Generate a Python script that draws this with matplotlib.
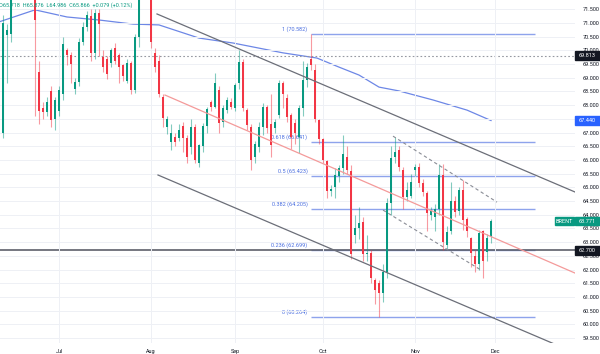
import matplotlib
matplotlib.use("Agg")
import numpy as np
import matplotlib.pyplot as plt
from matplotlib import transforms
from matplotlib.patches import Rectangle

plt.rcParams['font.family'] = ['Roboto', 'DejaVu Sans']

# daily bars, index 0 = 11 Jun ... 122 = 28 Nov
opens = [67.0, 70.56, 70.6, 74.5, 73.4, 76.5, 76.7, 78.3, 78.5, 69.2,
         67.9, 67.75, 68.5, 67.5, 67.8, 68.4, 70.0, 69.85, 68.6, 68.85,
         70.3, 70.85, 71.25, 69.9, 71.35, 69.75, 69.7, 69.55, 70.1, 69.83,
         69.45, 68.9, 69.55, 68.55, 70.5, 72.6, 73.2, 72.4, 69.9, 69.6,
         68.3, 67.2, 66.65, 66.85, 66.8, 67.25, 66.8, 66.48, 67.2, 65.9,
         66.5, 67.25, 68.1, 67.93, 68.55, 67.38, 67.82, 68.1, 67.9, 68.8,
         69.58, 67.82, 67.2, 66.1, 66.48, 67.2, 67.93, 67.3, 67.17, 67.64,
         68.8, 68.26, 67.64, 67.35, 66.84, 67.9, 68.92, 69.7, 69.3, 67.45,
         66.75, 65.95, 64.85, 65.0, 65.4, 65.7, 66.1, 65.6, 63.26, 63.5,
         63.75, 62.55, 62.6, 61.62, 61.5, 61.14, 61.9, 64.42, 66.1, 66.35,
         65.63, 64.65, 64.7, 65.65, 65.75, 65.15, 64.8, 64.0, 63.9, 64.2,
         65.45, 62.9, 63.4, 64.5, 64.15, 64.9, 63.85, 63.15, 62.5, 62.2,
         63.4, 62.63, 63.2]
highs = [71.3, 70.95, 78.5, 75.5, 76.8, 77.2, 79.0, 78.6, 81.0, 69.6,
         68.1, 68.3, 68.7, 68.3, 68.7, 70.5, 70.1, 69.95, 69.0, 70.45,
         71.05, 71.45, 71.5, 71.5, 71.5, 70.0, 69.8, 70.1, 70.27, 69.9,
         69.5, 69.7, 69.6, 70.6, 72.8, 73.6, 73.5, 72.7, 70.1, 69.85,
         68.4, 67.6, 67.3, 67.0, 67.3, 67.4, 66.9, 67.5, 67.3, 66.6,
         67.35, 67.95, 68.2, 69.17, 68.7, 68.0, 68.3, 68.25, 68.8, 70.0,
         69.7, 67.9, 67.3, 66.7, 67.4, 68.08, 68.0, 68.4, 67.5, 68.92,
         68.9, 68.4, 67.7, 67.5, 68.0, 69.6, 69.55, 70.582, 69.5, 67.5,
         66.8, 66.0, 65.1, 65.7, 65.8, 66.9, 66.5, 65.8, 64.0, 64.3,
         63.9, 63.26, 62.7, 61.7, 61.6, 62.2, 64.6, 66.5, 66.85, 66.5,
         65.75, 65.2, 65.5, 65.85, 65.9, 65.3, 64.85, 64.3, 64.4, 65.85,
         65.85, 63.6, 65.2, 64.7, 65.0, 65.25, 63.9, 63.2, 62.7, 63.45,
         63.45, 63.3, 63.85]
lows = [66.8, 68.8, 70.3, 72.8, 73.0, 75.3, 76.0, 76.0, 67.6, 67.3,
        67.5, 67.6, 67.2, 67.1, 67.6, 68.2, 69.45, 68.8, 68.4, 68.7,
        70.2, 70.7, 69.6, 69.7, 69.8, 69.2, 68.95, 69.4, 69.5, 68.8,
        68.9, 68.8, 68.4, 68.45, 70.12, 72.2, 72.1, 70.1, 69.2, 68.3,
        67.2, 66.95, 66.35, 66.5, 66.7, 66.3, 65.9, 66.2, 65.9, 65.75,
        66.3, 66.98, 67.8, 67.9, 67.0, 67.2, 67.7, 67.85, 67.8, 68.6,
        67.8, 67.1, 65.63, 65.9, 66.3, 66.9, 67.0, 66.1, 67.0, 67.55,
        67.9, 67.4, 66.4, 66.6, 66.25, 67.6, 68.65, 69.3, 67.4, 66.6,
        65.9, 64.6, 64.7, 64.6, 65.2, 65.5, 65.5, 62.4, 62.95, 63.1,
        62.3, 62.3, 61.5, 60.75, 60.264, 60.8, 61.7, 64.0, 65.9, 65.6,
        64.2, 64.5, 64.6, 65.4, 65.0, 64.7, 63.4, 63.8, 63.4, 64.0,
        62.7, 62.75, 63.3, 63.9, 64.0, 63.45, 63.2, 62.1, 61.9, 62.0,
        61.7, 62.3, 62.95]
closes = [71.0, 70.75, 74.5, 73.5, 76.5, 76.7, 78.5, 77.0, 71.1, 67.8,
          67.75, 68.1, 67.45, 68.2, 68.55, 70.25, 69.85, 69.5, 68.85, 70.3,
          70.85, 71.3, 69.9, 71.35, 70.95, 69.4, 69.15, 70.0, 69.6, 69.4,
          69.05, 69.55, 68.55, 70.5, 72.6, 73.2, 72.6, 70.3, 69.4, 68.4,
          67.55, 67.5, 66.98, 66.65, 67.1, 66.8, 66.1, 67.2, 66.0, 66.55,
          67.25, 67.85, 67.93, 68.8, 67.35, 67.9, 68.19, 67.95, 68.74, 69.58,
          67.9, 67.28, 66.0, 66.6, 67.2, 67.93, 67.17, 66.55, 67.39, 68.8,
          68.4, 67.57, 66.84, 66.98, 67.9, 68.92, 69.4, 69.45, 67.5, 66.75,
          66.0, 64.85, 64.95, 65.45, 65.7, 66.2, 65.63, 62.55, 63.51, 63.7,
          62.55, 62.62, 61.7, 61.25, 61.14, 61.9, 64.42, 66.07, 66.3, 65.75,
          64.65, 64.9, 65.2, 65.75, 65.15, 64.83, 64.06, 64.15, 64.2, 65.45,
          63.0, 63.37, 64.5, 64.1, 64.9, 63.8, 63.4, 62.6, 62.2, 63.35,
          62.3, 63.15, 63.771]

months = ["Jul", "Aug", "Sep", "Oct", "Nov", "Dec"]
month_bars = [14, 37, 58, 80, 103, 123]

# blue moving average, read at a few points
ma_bars = [-1, 8, 16, 24, 32.5, 39, 49, 57.5, 70, 78.5, 84, 89, 94, 99, 107.5, 116, 122]
ma_vals = [71.04, 71.48, 71.22, 71.11, 70.96, 70.93, 70.45, 70.27, 69.91, 69.72,
           69.39, 69.10, 68.66, 68.52, 68.19, 67.82, 67.44]

# drawn trend lines (bar, price) end points
chan_upper = ([38.5, 143], [71.33, 64.83])
chan_mid = ([40.5, 143], [68.37, 61.87])
chan_lower = ([38.75, 138.5], [65.45, 59.24])
dash_upper = ([97.5, 123.5], [66.87, 64.46])
dash_lower = ([95, 119.5], [64.17, 61.98])

fib_ratios = [1, 0.618, 0.5, 0.382, 0.236, 0]
fib_start, fib_end = 77, 133

hline_price = 62.7
dotted_price = 69.813
ma_last = 67.44

green, red = '#089981', '#f23645'

fig = plt.figure(figsize=(6, 3.54), dpi=100)
ax = fig.add_axes([0, 11 / 354, 575 / 600, 343 / 354])
ax.set_xlim(-0.75, 143)
ax.set_ylim(59.317, 71.84)

for s in ax.spines.values():
    s.set_visible(False)

# price scale labels; the one hidden under the MA badge is left out
yt = np.arange(59.5, 71.51, 0.5)
ax.set_yticks(yt)
ax.set_yticklabels(["" if abs(v - ma_last) < 0.15 else f"{v:.3f}" for v in yt])
ax.set_xticks(month_bars)
ax.set_xticklabels(months)
ax.tick_params(axis='y', left=False, right=False, labelleft=False, labelright=True,
               labelsize=4, pad=2.2, colors='#131722')
ax.tick_params(axis='x', length=0, labelsize=4, pad=4.3, colors='#131722')
ax.grid(color='#eef0f5', lw=0.7, zorder=0)

# moving average
ax.plot(ma_bars, ma_vals, color='#6d87e6', lw=0.9, zorder=1)

# fib retracement
swing_high = max(highs[70:100])
swing_low = min(lows[80:100])
for r in fib_ratios:
    lvl = swing_low + r * (swing_high - swing_low)
    ax.hlines(lvl, fib_start, fib_end, color='#8ea3ec', lw=1.0, zorder=1)
    ax.text(fib_start - 0.9, lvl + 0.08, f"{r:g} ({lvl:.3f})", ha='right', va='bottom',
            fontsize=4, color='#4a6ee0', zorder=1)

ax.axhline(hline_price, color='#5d606b', lw=1.2, zorder=1)
ax.axhline(dotted_price, color='#9598a1', lw=0.8, ls=(0, (1.5, 2)), zorder=1)

# candles
for i in range(len(closes)):
    o, h, l, c = opens[i], highs[i], lows[i], closes[i]
    up = c >= o
    ax.vlines(i, l, h, color=green if up else red, lw=0.8, alpha=0.5, zorder=2)
    ax.bar(i, max(abs(c - o), 0.03), bottom=min(o, c), width=0.62,
           color=green if up else red, lw=0, zorder=3)

# trend channel drawings
ax.plot(*chan_upper, color='#6b6e78', lw=0.9, zorder=4)
ax.plot(*chan_lower, color='#6b6e78', lw=0.9, zorder=4)
ax.plot(*chan_mid, color='#f49a9a', lw=0.9, zorder=4)
ax.plot(*dash_upper, color='#8a8d96', lw=0.8, ls=(0, (3, 2.5)), zorder=4)
ax.plot(*dash_lower, color='#8a8d96', lw=0.8, ls=(0, (3, 2.5)), zorder=4)

# legend text top-left
fig.text(-0.002, 1 - 5 / 354, "O65.718  H65.876  L64.986  C65.866  +0.079 (+0.12%)",
         fontsize=4, color=green, va='center', ha='left')

# price badges on the right scale
trans = transforms.blended_transform_factory(fig.transFigure, ax.transData)
hh = 4.2 / 27.39


def badge(price, text, bg, x0=575, x1=600):
    fig.add_artist(Rectangle((x0 / 600, price - hh), (x1 - x0) / 600, 2 * hh,
                             transform=trans, color=bg, zorder=5, clip_on=False))
    fig.text((x0 + x1) / 2 / 600, price, text, transform=trans, fontsize=4,
             color='white', ha='center', va='center', zorder=6)


badge(dotted_price, f"{dotted_price:.3f}", '#131722')
badge(ma_last, f"{ma_last:.3f}", '#2962ff')
badge(closes[-1], "BRENT", green, 555, 574)
badge(closes[-1], f"{closes[-1]:.3f}", green)
badge(hline_price, f"{hline_price:.3f}", '#131722')

fig.savefig("out.png", dpi=100, facecolor='white')
